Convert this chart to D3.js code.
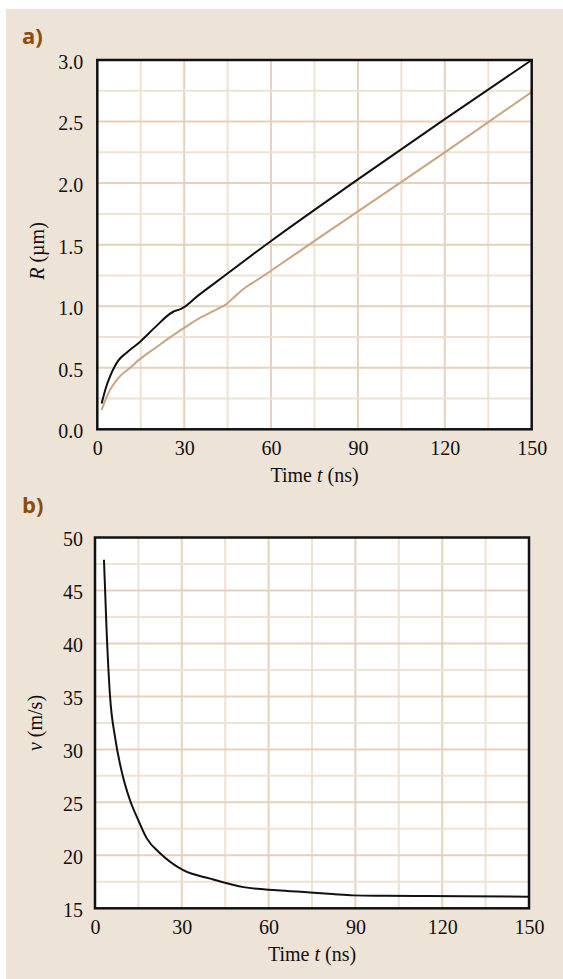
<!DOCTYPE html>
<html>
<head>
<meta charset="utf-8">
<script src="https://cdn.jsdelivr.net/npm/d3@7"></script>
<style>
  body { margin: 0; background: #fff; }
  svg { display: block; }
  .tick text { font-family: "Liberation Serif", "DejaVu Serif", serif; font-size: 20px; fill: #111; }
  .title { font-family: "Liberation Serif", "DejaVu Serif", serif; font-size: 20px; fill: #111; }
  .panel-tag { font-family: "Open Sans", Lato, sans-serif; font-weight: 700; font-size: 22px; fill: #8b4c0c; }
</style>
</head>
<body>
<svg width="563" height="979"></svg>
<script>
// panel a: bubble radius over time
const timeA = [1.5, 3, 4.4, 6, 7.3, 10, 14.7, 20, 26.2, 28, 29.1, 35, 41.8, 60, 90, 120, 150];
const radiusBlack = [0.21, 0.34, 0.43, 0.51, 0.56, 0.62, 0.71, 0.83, 0.955, 0.97, 0.98, 1.09, 1.21, 1.53, 2.03, 2.52, 3.0];
const timeA2 = [1.5, 3, 4.4, 7, 11.3, 14.7, 20, 25, 29.7, 35, 40, 44.7, 48, 51.6, 55, 70, 90, 106.3, 120, 150];
const radiusTan = [0.157, 0.25, 0.32, 0.41, 0.50, 0.57, 0.66, 0.745, 0.82, 0.90, 0.96, 1.02, 1.09, 1.16, 1.21, 1.45, 1.77, 2.03, 2.25, 2.74];

// panel b: velocity over time
const timeB = [3.1, 4.0, 5.2, 6.9, 9.5, 12.1, 15, 17.9, 22.5, 30.5, 39.8, 51.3, 62.8, 74.3, 82, 89.3, 100, 114.6, 149.8];
const velocity = [47.9, 41.3, 35.0, 31.2, 27.6, 25.2, 23.3, 21.6, 20.2, 18.6, 17.8, 17.0, 16.7, 16.5, 16.35, 16.22, 16.18, 16.15, 16.1];

const xTicks = [0, 30, 60, 90, 120, 150];
const yTicksA = [0, 0.5, 1, 1.5, 2, 2.5, 3];
const yTicksB = [15, 20, 25, 30, 35, 40, 45, 50];

const svg = d3.select("svg");
const W = 563, H = 979;

svg.append("rect")
  .attr("x", 6).attr("y", 9)
  .attr("width", W - 6).attr("height", H - 9)
  .attr("fill", "#ede3d6");

function drawPanel(p) {
  const x = d3.scaleLinear().domain([0, 150]).range([p.left, p.right]);
  const y = d3.scaleLinear().domain(p.yDomain).range([p.bottom, p.top]);
  const g = svg.append("g");

  g.append("rect")
    .attr("x", p.left).attr("y", p.top)
    .attr("width", p.right - p.left).attr("height", p.bottom - p.top)
    .attr("fill", "#fff");

  // grid: minor then major
  const xGrid = d3.range(15, 150, 15);
  g.selectAll(".vgrid").data(xGrid).join("line")
    .attr("x1", d => x(d)).attr("x2", d => x(d))
    .attr("y1", p.top).attr("y2", p.bottom)
    .attr("stroke", d => d % 30 === 0 ? "#e5d2bd" : "#eee2d4")
    .attr("stroke-width", 2);

  const yGrid = d3.range(1, p.ySteps).map(i => p.yDomain[0] + i * p.yMinor);
  g.selectAll(".hgrid").data(yGrid).join("line")
    .attr("x1", p.left).attr("x2", p.right)
    .attr("y1", d => y(d)).attr("y2", d => y(d))
    .attr("stroke", (d, i) => i % 2 === 1 ? "#e5d2bd" : "#eee2d4")
    .attr("stroke-width", 2);

  const line = d3.line()
    .x(d => x(d[0])).y(d => y(d[1]))
    .curve(d3.curveMonotoneX);

  p.series.forEach(s => {
    g.append("path")
      .datum(d3.zip(s.t, s.v))
      .attr("d", line)
      .attr("fill", "none")
      .attr("stroke", s.color)
      .attr("stroke-width", 2);
  });

  g.append("rect")
    .attr("x", p.left).attr("y", p.top)
    .attr("width", p.right - p.left).attr("height", p.bottom - p.top)
    .attr("fill", "none")
    .attr("stroke", "#111")
    .attr("stroke-width", 2.5);

  const xAxis = g.append("g")
    .attr("transform", `translate(0,${p.bottom})`)
    .call(d3.axisBottom(x).tickValues(xTicks).tickSize(0).tickPadding(12));
  xAxis.select(".domain").remove();
  xAxis.selectAll("text").attr("dy", "0.71em");

  const yAxis = g.append("g")
    .attr("transform", `translate(${p.left},0)`)
    .call(d3.axisLeft(y).tickValues(p.yTicks).tickSize(0).tickPadding(p.yPad).tickFormat(p.yFormat));
  yAxis.select(".domain").remove();
  yAxis.selectAll("text").attr("dy", "0.42em");

  const xt = g.append("text")
    .attr("class", "title")
    .attr("text-anchor", "middle")
    .attr("x", (p.left + p.right) / 2)
    .attr("y", p.bottom + 53);
  xt.append("tspan").text("Time ");
  xt.append("tspan").attr("font-style", "italic").text("t");
  xt.append("tspan").text(" (ns)");

  const yt = g.append("text")
    .attr("class", "title")
    .attr("text-anchor", "middle")
    .attr("transform", `translate(${p.yTitleX},${p.yTitleY}) rotate(-90)`);
  yt.append("tspan").attr("font-style", "italic").text(p.yVar);
  yt.append("tspan").text(p.yUnit);

  svg.append("text")
    .attr("class", "panel-tag")
    .attr("x", 22).attr("y", p.tagY)
    .text(p.tag);
}

drawPanel({
  tag: "a)", tagY: 44,
  left: 97.3, right: 531.7, top: 60, bottom: 429.3,
  yDomain: [0, 3], yMinor: 0.25, ySteps: 12,
  yTicks: yTicksA, yFormat: d3.format(".1f"), yPad: 14,
  yVar: "R", yUnit: " (µm)", yTitleX: 44, yTitleY: 251,
  series: [
    { t: timeA2, v: radiusTan, color: "#c9a582" },
    { t: timeA, v: radiusBlack, color: "#111" }
  ]
});

drawPanel({
  tag: "b)", tagY: 513,
  left: 95, right: 529, top: 537.5, bottom: 908.3,
  yDomain: [15, 50], yMinor: 2.5, ySteps: 14,
  yTicks: yTicksB, yFormat: d3.format("d"), yPad: 12,
  yVar: "v", yUnit: " (m/s)", yTitleX: 42, yTitleY: 723,
  series: [
    { t: timeB, v: velocity, color: "#111" }
  ]
});
</script>
</body>
</html>
